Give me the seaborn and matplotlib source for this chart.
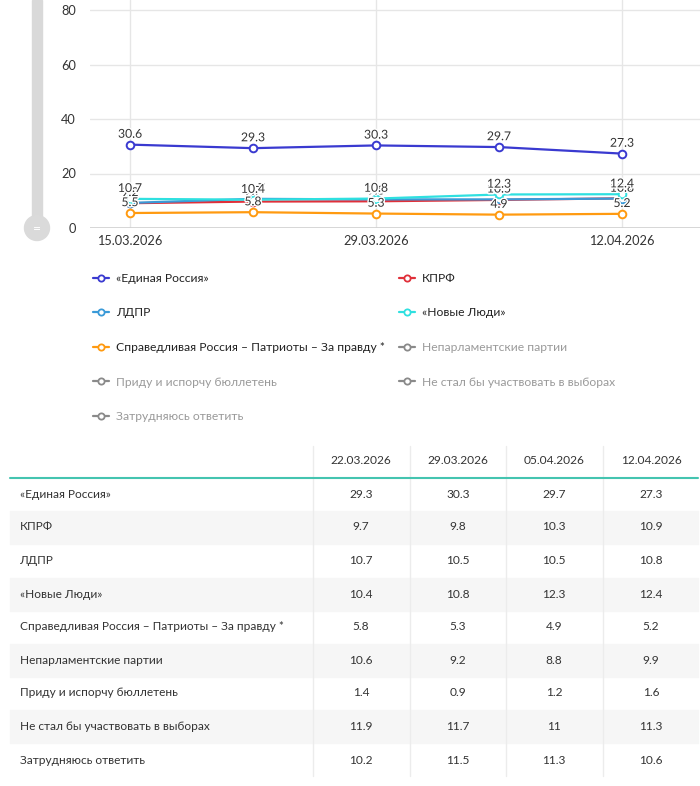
import matplotlib
matplotlib.use("Agg")
import matplotlib.pyplot as plt
import matplotlib.patheffects as pe
from matplotlib.lines import Line2D
from matplotlib.patches import Rectangle, Ellipse
import seaborn as sns
import pandas as pd

# ---------------- data ----------------
dates = ["15.03.2026", "22.03.2026", "29.03.2026", "05.04.2026", "12.04.2026"]
tick_dates = ["15.03.2026", "29.03.2026", "12.04.2026"]

parties = ["«Единая Россия»", "КПРФ", "ЛДПР", "«Новые Люди»",
           "Справедливая Россия – Патриоты – За правду *",
           "Непарламентские партии", "Приду и испорчу бюллетень",
           "Не стал бы участвовать в выборах", "Затрудняюсь ответить"]

er = [30.6, 29.3, 30.3, 29.7, 27.3]
kprf = [9.1, 9.7, 9.8, 10.3, 10.9]
ldpr = [9.2, 10.7, 10.5, 10.5, 10.8]
nl = [10.7, 10.4, 10.8, 12.3, 12.4]
sr = [5.5, 5.8, 5.3, 4.9, 5.2]
neparl = [10.6, 9.2, 8.8, 9.9]
pridu = [1.4, 0.9, 1.2, 1.6]
ne_stal = [11.9, 11.7, 11, 11.3]
zatr = [10.2, 11.5, 11.3, 10.6]

visible = {parties[0]: er, parties[1]: kprf, parties[2]: ldpr,
           parties[3]: nl, parties[4]: sr}
colors = {parties[0]: "#3a3ad0", parties[1]: "#e0303a", parties[2]: "#3a9ad8",
          parties[3]: "#2fe0e0", parties[4]: "#ff9a10"}
hidden_color = "#8a8a8a"

table_dates = dates[1:]
table_values = [er[1:], kprf[1:], ldpr[1:], nl[1:], sr[1:], neparl, pridu, ne_stal, zatr]

# ---------------- style ----------------
sns.set_theme(style="white")
plt.rcParams["font.family"] = ["Lato", "DejaVu Sans"]

W, H = 700, 786
fig = plt.figure(figsize=(7, 7.86), dpi=100)

def fx(px):
    return px / W

def fy(py):
    return 1 - py / H

# chart axes: pixel x 90..700, y 0..228
ax = fig.add_axes([fx(90), fy(228), fx(610), 228 / H])
rows = []
for name, vals in visible.items():
    for i, v in enumerate(vals):
        rows.append({"party": name, "idx": i, "value": v})
df = pd.DataFrame(rows)

sns.lineplot(data=df, x="idx", y="value", hue="party", palette=colors,
             hue_order=list(visible.keys()), ax=ax, linewidth=1.6,
             marker="o", markersize=5.5, markerfacecolor="white",
             markeredgewidth=1.4, legend=False, zorder=3)
for line, name in zip(ax.get_lines(), visible.keys()):
    line.set_markeredgecolor(colors[name])

for name, vals in visible.items():
    for i, v in enumerate(vals):
        t = ax.annotate(f"{v:g}", (i, v), xytext=(0, 3.5), textcoords="offset points",
                        ha="center", va="bottom", fontsize=8.8, color="#333333",
                        zorder=5)
        t.set_path_effects([pe.withStroke(linewidth=2, foreground="white")])

ax.set_xlim(-40 / 123, 570 / 123)
ax.set_ylim(0, 228 / 2.725)
ax.set_yticks([0, 20, 40, 60, 80])
ax.set_xticks([0, 2, 4])
ax.set_xticklabels(tick_dates)
ax.set_xlabel("")
ax.set_ylabel("")
ax.grid(True, color="#e6e6e6", linewidth=1)
for s in ax.spines.values():
    s.set_visible(False)
ax.axhline(0, color="#d0d0d0", linewidth=1.2, zorder=1)
ax.tick_params(axis="both", length=0, labelsize=9.2, colors="#333333")
ax.tick_params(axis="y", pad=10)
ax.tick_params(axis="x", pad=5)

# slider decoration
fig.patches.append(Rectangle((fx(32), fy(222)), fx(10), 222 / H,
                             transform=fig.transFigure, color="#d9d9d9", zorder=0))
fig.patches.append(Ellipse((fx(37), fy(228)), fx(25), 25 / H,
                           transform=fig.transFigure, color="#dadada", zorder=1))
fig.text(fx(37), fy(229), "=", ha="center", va="center", color="white", fontsize=10)

# legend
order = [0, 2, 4, 6, 8, 1, 3, 5, 7]
handles, labels = [], []
for k in order:
    name = parties[k]
    c = colors.get(name, hidden_color)
    handles.append(Line2D([], [], color=c, linewidth=1.6, marker="o", markersize=4.5,
                          markerfacecolor="white", markeredgecolor=c, markeredgewidth=1.3))
    labels.append(name)
leg = fig.legend(handles, labels, ncol=2, loc="upper left",
                 bbox_to_anchor=(fx(88), fy(268)), frameon=False, fontsize=8.7,
                 handlelength=1.35, handletextpad=0.6, columnspacing=1.1,
                 labelspacing=1.95, borderaxespad=0)
for txt, k in zip(leg.get_texts(), order):
    txt.set_color("#222222" if parties[k] in visible else "#9a9a9a")

# table
tax = fig.add_axes([0, 0, 1, 1])
tax.set_xlim(0, W)
tax.set_ylim(H, 0)
tax.axis("off")
tax.patch.set_alpha(0)

col_centers = [361, 458, 554, 651]
col_seps = [313, 410, 506, 603]
row_y = [494, 527, 561, 594, 627, 660, 693, 726, 760]
tfont = ["Lato", "DejaVu Sans"]
tsize = 8.6

for r, y in enumerate(row_y):
    if r % 2 == 1:
        tax.add_patch(Rectangle((10, y - 16.5), 688, 33, color="#f6f6f6", zorder=0))
for xs in col_seps:
    tax.plot([xs, xs], [446, 776], color="#ececec", linewidth=1, zorder=1)
tax.plot([10, 698], [478, 478], color="#44c4b0", linewidth=1.5, zorder=2)

for c, d in zip(col_centers, table_dates):
    tax.text(c, 461, d, ha="center", va="center", fontsize=tsize, color="#333333",
             family=tfont)
for r, (name, vals) in enumerate(zip(parties, table_values)):
    y = row_y[r]
    tax.text(20, y, name, ha="left", va="center", fontsize=tsize, color="#333333",
             family=tfont)
    for c, v in zip(col_centers, vals):
        tax.text(c, y, f"{v:g}", ha="center", va="center", fontsize=tsize,
                 color="#333333", family=tfont)

fig.savefig("out.png", dpi=100)
